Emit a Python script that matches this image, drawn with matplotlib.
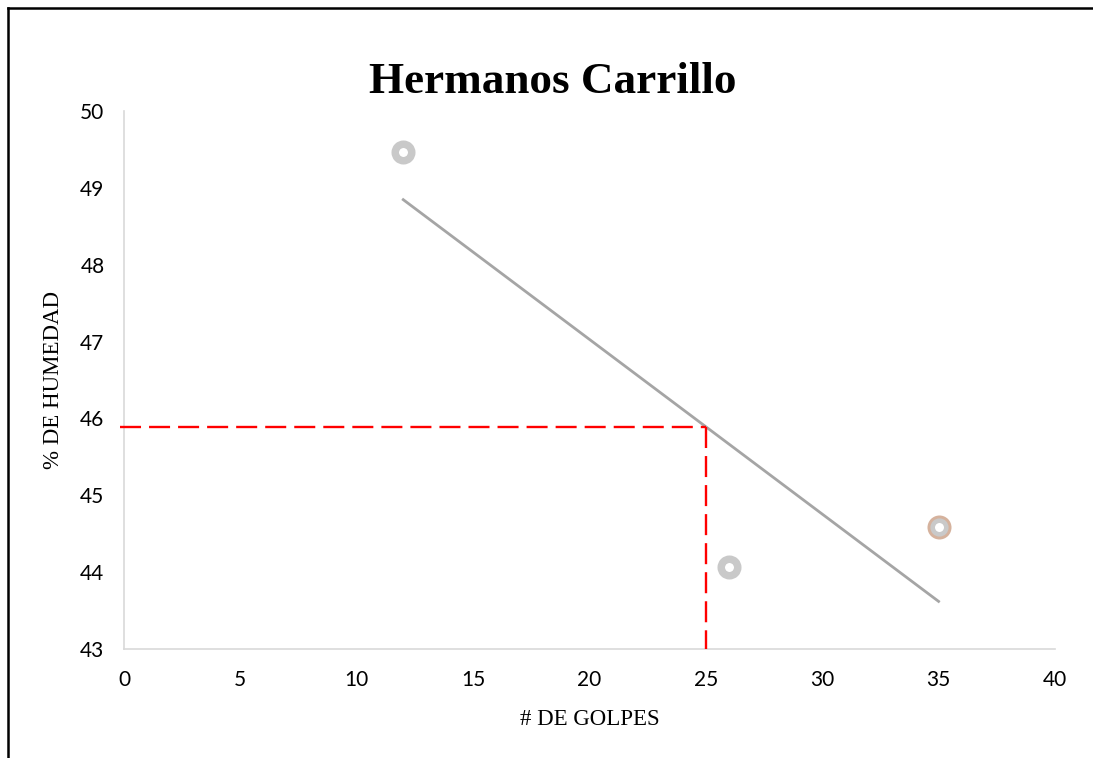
import numpy as np
import matplotlib.pyplot as plt
from matplotlib.lines import Line2D

# Ensayo de limite liquido: golpes vs humedad
golpes = [12, 26, 35]
humedad = [49.47, 44.07, 44.59]
golpes_ref = 25

x_ticks = [0, 5, 10, 15, 20, 25, 30, 35, 40]
y_ticks = [43, 44, 45, 46, 47, 48, 49, 50]

# recta de tendencia lineal
m, b = np.polyfit(golpes, humedad, 1)
x_fit = np.array([min(golpes), max(golpes)])
y_fit = m * x_fit + b
humedad_ref = m * golpes_ref + b

fig = plt.figure(figsize=(10.93, 7.58), dpi=100)
ax = fig.add_axes([0.1134, 0.1438, 0.8518, 0.7098])

ax.plot(x_fit, y_fit, color='#a5a5a5', linewidth=2, zorder=2)

# lineas de lectura a 25 golpes
ax.plot([-0.15, golpes_ref], [humedad_ref, humedad_ref], color='#ff0000', linewidth=1.7,
        dashes=(8.9, 3.4), clip_on=False, zorder=3)
ax.plot([golpes_ref, golpes_ref], [humedad_ref, 43], color='#ff0000', linewidth=1.7,
        dashes=(8.9, 3.4), clip_on=False, zorder=3)

# puntos de ensayo
ax.plot(golpes[:-1], humedad[:-1], 'o', markersize=11.9, markerfacecolor='white',
        markeredgecolor='#c9c9c9', markeredgewidth=5.4, zorder=5)
ax.plot(golpes[-1], humedad[-1], 'o', markersize=17.3, markerfacecolor='#d5b29d',
        markeredgewidth=0, zorder=4)
ax.plot(golpes[-1], humedad[-1], 'o', markersize=9.8, markerfacecolor='white',
        markeredgecolor='#c9c9c9', markeredgewidth=3.3, zorder=5)

ax.set_xlim(0, 40)
ax.set_ylim(43, 50)
ax.set_xticks(x_ticks)
ax.set_yticks(y_ticks)
ax.tick_params(length=0, labelsize=15, colors='black')
ax.tick_params(axis='x', pad=15)
ax.tick_params(axis='y', pad=14)
for lab in ax.get_xticklabels() + ax.get_yticklabels():
    lab.set_fontfamily('Lato')

for s in ['top', 'right']:
    ax.spines[s].set_visible(False)
for s in ['left', 'bottom']:
    ax.spines[s].set_color('#d9d9d9')
    ax.spines[s].set_linewidth(1.2)

ax.set_xlabel('# DE GOLPES', fontsize=16.5, family='Liberation Serif', labelpad=14)
ax.set_ylabel('% DE HUMEDAD', fontsize=16.5, family='Liberation Serif', labelpad=12)
fig.text(0.506, 0.892, 'Hermanos Carrillo', fontsize=32.5, fontweight='bold',
         family='Liberation Serif', ha='center', va='center')

# marco
fig.add_artist(Line2D([8 / 1093, 8 / 1093], [0, 1 - 8 / 758], color='black', linewidth=1.8))
fig.add_artist(Line2D([8 / 1093, 1], [1 - 8 / 758, 1 - 8 / 758], color='black', linewidth=1.8))

fig.savefig('out.png', dpi=100)
